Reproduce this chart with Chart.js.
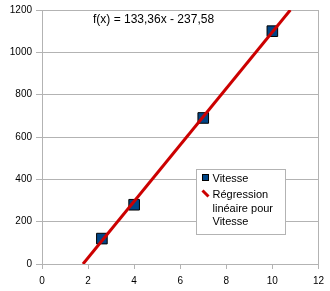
<!DOCTYPE html>
<html>
<head>
<meta charset="utf-8">
<script src="https://cdn.jsdelivr.net/npm/chart.js@4/dist/chart.umd.min.js"></script>
<style>
html,body{margin:0;padding:0;background:#fff;}
#wrap{width:330px;height:291px;position:relative;}
</style>
</head>
<body>
<div id="wrap"><canvas id="c" width="330" height="291"></canvas></div>
<script>
// Data
const vitesseX = [2.6, 4, 7, 10];
const vitesseY = [120, 280, 690, 1100];
const regressionX = [1.78, 10.78];
const regressionY = [0, 1200];
const equationLabel = 'f(x) = 133,36x - 237,58';
const legendLabels = ['Vitesse', 'Régression', 'linéaire pour', 'Vitesse'];

const FONT = '"Liberation Sans", Arial, sans-serif';
const GRID = '#b3b3b3';

const overlay = {
  id: 'overlay',
  afterDraw(chart) {
    const ctx = chart.ctx;
    ctx.save();
    // equation
    ctx.fillStyle = '#000';
    ctx.font = '12px ' + FONT;
    ctx.textBaseline = 'middle';
    ctx.textAlign = 'left';
    ctx.fillText(equationLabel, 93, 20);
    // legend box
    ctx.fillStyle = '#fff';
    ctx.fillRect(196, 169, 89, 65);
    ctx.strokeStyle = GRID;
    ctx.lineWidth = 1;
    ctx.strokeRect(196.5, 169.5, 89, 65);
    // marker
    ctx.fillStyle = '#004586';
    ctx.fillRect(202.5, 174.5, 6, 6);
    ctx.strokeStyle = '#000';
    ctx.strokeRect(202.5, 174.5, 6, 6);
    // line marker
    ctx.strokeStyle = '#cc0000';
    ctx.lineWidth = 3;
    ctx.beginPath();
    ctx.moveTo(202.5, 190.5);
    ctx.lineTo(208.5, 196.5);
    ctx.stroke();
    ctx.fillStyle = '#000';
    ctx.font = '11px ' + FONT;
    ctx.fillText(legendLabels[0], 212.5, 179);
    ctx.fillText(legendLabels[1], 212.5, 195);
    ctx.fillText(legendLabels[2], 212.5, 208.5);
    ctx.fillText(legendLabels[3], 212.5, 222);
    ctx.restore();
  }
};

new Chart(document.getElementById('c'), {
  data: {
    datasets: [
      {
        type: 'scatter',
        label: 'Vitesse',
        data: vitesseX.map((x, i) => ({x, y: vitesseY[i]})),
        pointStyle: 'rect',
        pointRadius: 7.5,
        pointBackgroundColor: '#004586',
        pointBorderColor: '#000',
        pointBorderWidth: 1,
        order: 2
      },
      {
        type: 'line',
        label: 'Régression linéaire pour Vitesse',
        data: regressionX.map((x, i) => ({x, y: regressionY[i]})),
        borderColor: '#cc0000',
        borderWidth: 3,
        pointRadius: 0,
        fill: false,
        order: 1
      }
    ]
  },
  options: {
    responsive: false,
    animation: false,
    devicePixelRatio: 1,
    layout: {padding: {top: 7, right: 9, left: 0, bottom: 0}},
    plugins: {legend: {display: false}, tooltip: {enabled: false}, title: {display: false}},
    scales: {
      x: {
        type: 'linear', min: 0, max: 12,
        ticks: {stepSize: 2, color: '#000', font: {family: FONT, size: 10}, padding: 6, callback: v => String(v)},
        grid: {
          color: c => (c.tick && c.tick.value === 12) ? GRID : 'rgba(0,0,0,0)',
          tickColor: GRID, tickLength: 5, lineWidth: 1
        },
        border: {color: GRID},
        afterFit: s => { s.height = 27; }
      },
      y: {
        type: 'linear', min: 0, max: 1200,
        ticks: {stepSize: 200, color: '#000', font: {family: FONT, size: 10}, padding: 4, callback: v => String(v)},
        grid: {color: GRID, tickColor: GRID, tickLength: 6, lineWidth: 1},
        border: {color: GRID},
        afterFit: s => { s.width = 42; }
      }
    }
  },
  plugins: [overlay]
});
</script>
</body>
</html>
